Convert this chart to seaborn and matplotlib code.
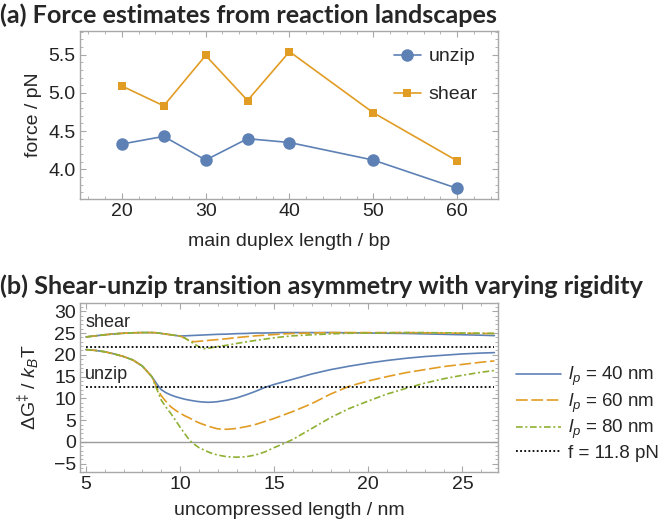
import numpy as np
import pandas as pd
import matplotlib
matplotlib.use("Agg")
import matplotlib.pyplot as plt
import seaborn as sns
from matplotlib.ticker import MultipleLocator

# ---- data for panel (a): force estimates ----
duplex_len = [20, 25, 30, 35, 40, 50, 60]
force_unzip = [4.33, 4.43, 4.12, 4.40, 4.35, 4.12, 3.75]
force_shear = [5.09, 4.83, 5.49, 4.90, 5.54, 4.74, 4.11]

# ---- data for panel (b): barrier vs uncompressed length ----
length_nm = [5, 5.5, 6, 6.5, 7, 7.5, 8, 8.5, 8.75, 9, 9.25, 9.5, 9.75, 10, 10.25,
             10.5, 10.75, 11, 11.25, 11.5, 11.75, 12, 12.5, 13, 13.5, 14, 14.5, 15,
             15.5, 16, 17, 18, 19, 20, 21, 22, 23, 24, 25, 26, 26.7]

shear_40 = [24.1, 24.35, 24.6, 24.8, 24.95, 25.05, 25.1, 25.1, 25.05, 24.9, 24.75, 24.6,
            24.45, 24.3, 24.35, 24.4, 24.45, 24.5, 24.55, 24.6, 24.65, 24.7, 24.75, 24.85,
            24.9, 25.0, 25.0, 25.05, 25.1, 25.1, 25.1, 25.1, 25.05, 25.0, 24.95, 24.9,
            24.8, 24.7, 24.6, 24.5, 24.4]
shear_60 = [24.1, 24.35, 24.6, 24.8, 24.95, 25.05, 25.1, 25.1, 25.05, 24.9, 24.75, 24.6,
            24.45, 24.3, 23.85, 23.2, 23.0, 23.1, 23.2, 23.3, 23.4, 23.5, 23.7, 23.95,
            24.15, 24.35, 24.5, 24.65, 24.8, 24.9, 25.0, 25.1, 25.1, 25.1, 25.1, 25.1,
            25.05, 25.0, 24.95, 24.9, 24.9]
shear_80 = [24.1, 24.35, 24.6, 24.8, 24.95, 25.05, 25.1, 25.1, 25.05, 24.9, 24.75, 24.6,
            24.45, 24.3, 23.85, 23.2, 22.5, 21.85, 21.4, 21.5, 21.7, 21.9, 22.2, 22.6,
            22.95, 23.3, 23.6, 23.9, 24.15, 24.35, 24.6, 24.8, 24.95, 25.0, 25.05, 25.1,
            25.1, 25.05, 25.0, 24.95, 24.9]

unzip_40 = [21.2, 21.0, 20.7, 20.2, 19.6, 18.8, 17.4, 15.0, 13.4, 12.0, 11.3, 10.8,
            10.4, 10.1, 9.8, 9.6, 9.4, 9.25, 9.15, 9.1, 9.15, 9.25, 9.6, 10.1, 10.8,
            11.6, 12.5, 13.2, 13.8, 14.4, 15.6, 16.6, 17.4, 18.1, 18.7, 19.2, 19.6,
            19.9, 20.2, 20.4, 20.5]
unzip_60 = [21.2, 21.0, 20.7, 20.2, 19.6, 18.8, 17.4, 15.0, 12.6, 10.6, 9.3, 8.1,
            7.3, 6.6, 6.0, 5.5, 4.9, 4.4, 4.0, 3.6, 3.3, 3.0, 2.9, 3.1, 3.5, 4.0, 4.7,
            5.4, 6.2, 7.0, 8.8, 11.0, 12.8, 14.0, 15.0, 15.9, 16.6, 17.3, 17.8, 18.3,
            18.6]
unzip_80 = [21.2, 21.0, 20.7, 20.2, 19.6, 18.8, 17.4, 15.0, 12.3, 9.6, 8.0, 6.6,
            5.0, 3.4, 1.9, 0.4, -0.5, -1.3, -1.8, -2.3, -2.7, -3.0, -3.4, -3.5, -3.4,
            -3.0, -2.3, -1.3, -0.4, 0.6, 3.1, 5.6, 7.7, 9.4, 11.0, 12.3, 13.5, 14.5,
            15.3, 16.0, 16.4]

force_level = [21.8, 12.5]  # f = 11.8 pN reference, shear and unzip
lp_labels = [r"$l_p$ = 40 nm", r"$l_p$ = 60 nm", r"$l_p$ = 80 nm"]

# ---- style ----
sns.set_style("ticks")
plt.rcParams["font.family"] = ["Liberation Sans", "DejaVu Sans"]
plt.rcParams["mathtext.fontset"] = "custom"
plt.rcParams["mathtext.rm"] = "Liberation Sans"
plt.rcParams["mathtext.it"] = "Liberation Sans:italic"

blue = "#5E81B5"
orange = "#E19C24"
green = "#8FB032"
frame_col = "#A8A8A8"
fs = 14

fig = plt.figure(figsize=(6.66, 5.30), dpi=100)
ax1 = fig.add_axes([0.120, 0.6245, 0.628, 0.317])
ax2 = fig.add_axes([0.120, 0.1094, 0.628, 0.319])

# panel (a)
df_a = pd.DataFrame({"len": duplex_len, "unzip": force_unzip, "shear": force_shear})
sns.lineplot(data=df_a, x="len", y="unzip", ax=ax1, color=blue, lw=1.2, marker="o",
             markersize=9, markeredgewidth=0, label="unzip")
sns.lineplot(data=df_a, x="len", y="shear", ax=ax1, color=orange, lw=1.2, marker="s",
             markersize=6, markeredgewidth=0, label="shear")
ax1.set_xlim(15, 64.9)
ax1.set_ylim(3.61, 5.81)
ax1.xaxis.set_major_locator(MultipleLocator(10))
ax1.xaxis.set_minor_locator(MultipleLocator(2))
ax1.yaxis.set_major_locator(MultipleLocator(0.5))
ax1.yaxis.set_minor_locator(MultipleLocator(0.1))
ax1.set_yticks([4.0, 4.5, 5.0, 5.5])
ax1.set_yticklabels(["4.0", "4.5", "5.0", "5.5"])
ax1.set_xlabel("main duplex length / bp", fontsize=fs)
ax1.set_ylabel("force / pN", fontsize=fs)
ax1.legend(loc="upper left", bbox_to_anchor=(0.75, 0.9), frameon=False,
           fontsize=fs, handlelength=1.4, handletextpad=0.4, labelspacing=1.05,
           borderpad=0, borderaxespad=0)

# panel (b)
df_b = pd.DataFrame({"x": length_nm, "s40": shear_40, "s60": shear_60, "s80": shear_80,
                     "u40": unzip_40, "u60": unzip_60, "u80": unzip_80})
ax2.axhline(0, color="#9A9A9A", lw=1.0, zorder=1)
styles = [("40", blue, "-"), ("60", orange, (0, (7, 2.2))), ("80", green, (0, (4, 1.6, 1.2, 1.6)))]
for (lp, col, ls), lab in zip(styles, lp_labels):
    sns.lineplot(data=df_b, x="x", y="s" + lp, ax=ax2, color=col, lw=1.2, linestyle=ls)
    sns.lineplot(data=df_b, x="x", y="u" + lp, ax=ax2, color=col, lw=1.2, linestyle=ls,
                 label=lab)
for lvl, lab in zip(force_level, ["f = 11.8 pN", None]):
    ax2.plot([length_nm[0], length_nm[-1]], [lvl, lvl], color="black", lw=1.3,
             linestyle=(0, (1, 1.3)), label=lab)
ax2.text(4.95, 27.4, "shear", fontsize=fs - 1, va="center", ha="left")
ax2.text(4.95, 15.4, "unzip", fontsize=fs - 1, va="center", ha="left")
ax2.set_xlim(4.68, 26.9)
ax2.set_ylim(-6.9, 31.9)
ax2.xaxis.set_major_locator(MultipleLocator(5))
ax2.xaxis.set_minor_locator(MultipleLocator(1))
ax2.yaxis.set_major_locator(MultipleLocator(5))
ax2.yaxis.set_minor_locator(MultipleLocator(1))
ax2.set_yticks(np.arange(-5, 31, 5))
ax2.set_yticklabels(["\u22125", "0", "5", "10", "15", "20", "25", "30"])
ax2.set_xlabel("uncompressed length / nm", fontsize=fs)
ax2.set_ylabel("\u0394G$^{\u2021}$ / $k_B$T", fontsize=fs)
ax2.legend(loc="center left", bbox_to_anchor=(0.775, 0.22), bbox_transform=fig.transFigure,
           frameon=False, fontsize=fs - 0.5, handlelength=2.4, handletextpad=0.35,
           labelspacing=0.18, borderpad=0, borderaxespad=0)

for ax in (ax1, ax2):
    for sp in ax.spines.values():
        sp.set_color(frame_col)
        sp.set_linewidth(1.0)
    ax.tick_params(which="both", direction="in", top=True, right=True, color=frame_col,
                   labelsize=fs, labelcolor="#222222", pad=3)
    ax.tick_params(which="major", length=4.5, width=0.8)
    ax.tick_params(which="minor", length=2.5, width=0.6)
    ax.yaxis.set_label_coords(-0.09, 0.5)

ax1.xaxis.set_label_coords(0.5, -0.2)
ax2.xaxis.set_label_coords(0.5, -0.18)

fig.text(0.0, 0.972, "(a) Force estimates from reaction landscapes", fontsize=18.2,
         fontweight="bold", family=["Lato", "DejaVu Sans"], ha="left", va="center")
fig.text(0.0, 0.46, "(b) Shear-unzip transition asymmetry with varying rigidity",
         fontsize=18.2, fontweight="bold", family=["Lato", "DejaVu Sans"], ha="left",
         va="center")

fig.savefig("out.png", dpi=100)
